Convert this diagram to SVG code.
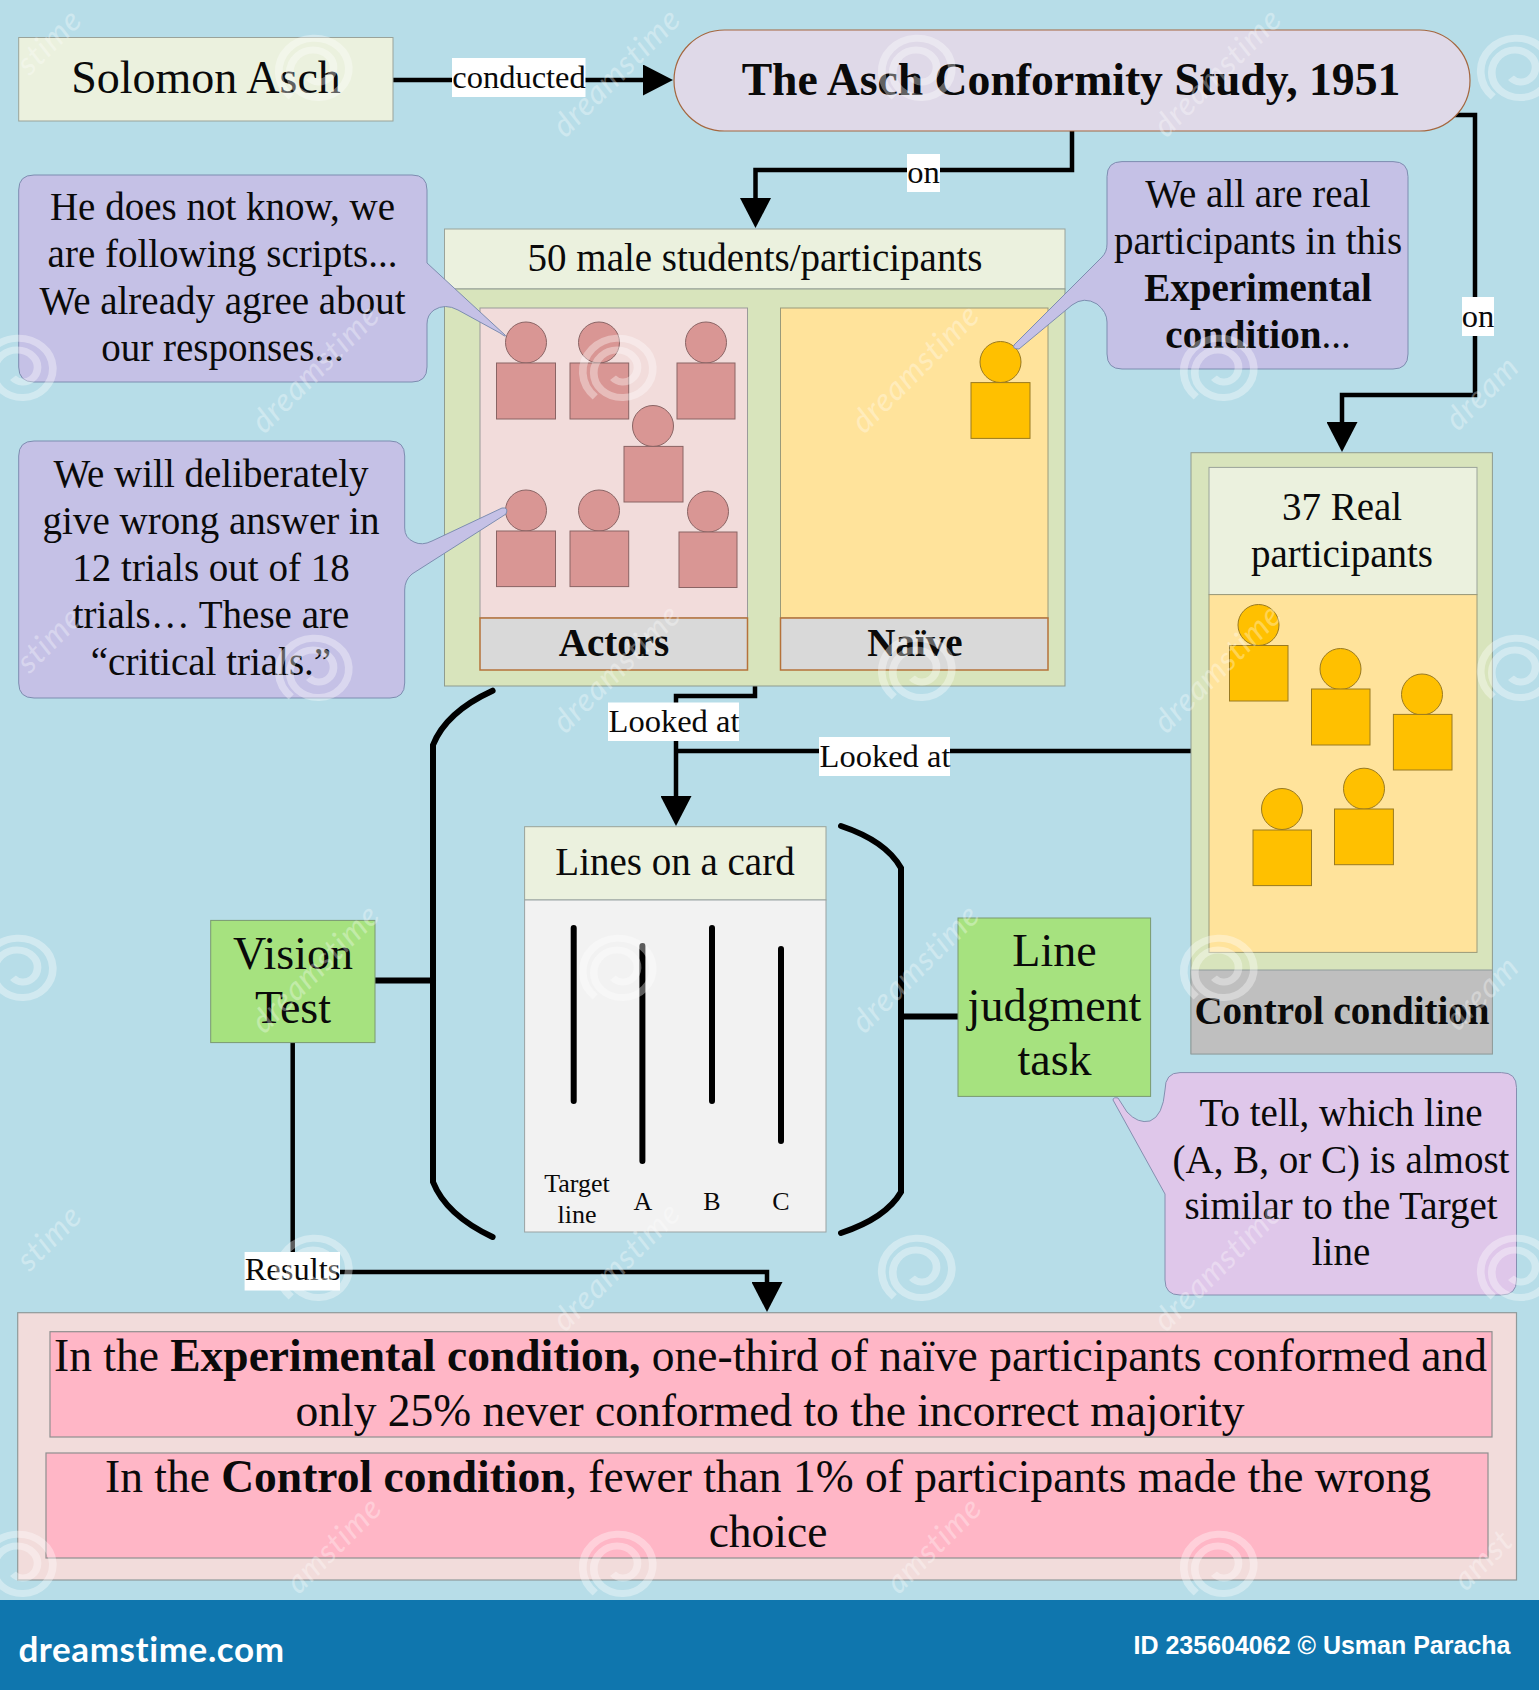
<svg xmlns="http://www.w3.org/2000/svg" width="1539" height="1690" viewBox="0 0 1539 1690">
<style>
text{font-family:"Liberation Serif","Times New Roman",serif;fill:#0a0a0a;text-anchor:middle}
.b{font-weight:bold}
.t46{font-size:46px}.t457{font-size:45.700px}.t45{font-size:45.500px}.t39{font-size:39px}.t32{font-size:32.500px}.t26{font-size:26px}
.hdr{fill:#ebf1de;stroke:#9aa39a;stroke-width:1}
.grn{fill:#d8e4bc;stroke:#8f9c8f;stroke-width:1}
.lab{fill:#d9d9d9;stroke:#b5723a;stroke-width:1.5}
.tag{fill:#a6e27f;stroke:#7a9a70;stroke-width:1}
.call{fill:#c5c1e6;stroke:#7d8db0;stroke-width:1}
.ap{fill:#d99694;stroke:#8a6464;stroke-width:1}
.yp{fill:#ffc000;stroke:#9a7a20;stroke-width:1}
.pink{fill:#ffb6c6;stroke:#8f8f8f;stroke-width:1.2}
.c{fill:none;stroke:#000;stroke-width:4.5}
.th{fill:none;stroke:#000;stroke-width:6;stroke-linecap:round}
.w{fill:#fff;stroke:none}
.swirl{fill:none;stroke:#fff;stroke-width:7;opacity:.36}
text.wm{font-family:"Lato","Liberation Sans",sans-serif;font-style:italic;font-size:32px;fill:#fff;opacity:.32;letter-spacing:1px}
text.ws{text-anchor:start}
text.we{text-anchor:end}
</style>
<defs>
<marker id="arr" viewBox="0 0 30 31" refX="15" refY="15.5" markerWidth="30" markerHeight="31" markerUnits="userSpaceOnUse" orient="auto"><path d="M0,0L30,15.5L0,31Z" fill="#000"/></marker>
<path id="sw" class="swirl" d="M-22.500,26.800A34,34 0 0 1 -25.300,-21.200A32,32 0 0 1 19.900,-23.700A30,30 0 0 1 22.200,18.600A27,27 0 0 1 -16.700,19.900A24,24 0 0 1 -16.900,-14.100A20,20 0 0 1 11.600,-13.800A16,16 0 0 1 10.700,9A12,12 0 0 1 -6.400,7.700"/>
</defs>
<rect id="background" width="1539" height="1600" fill="#b7dde8"/>

<g id="connectors">
<path class="c" d="M393,80H658" marker-end="url(#arr)"/>
<path class="c" d="M1072,131V170H755.500V213" marker-end="url(#arr)"/>
<path class="c" d="M1454,115H1475V395H1342V437" marker-end="url(#arr)"/>
<path class="c" d="M755,686V696H676V811" marker-end="url(#arr)"/>
<path class="c" d="M1193,751H676"/>
<path class="c" d="M292.700,1042V1272H767V1297" marker-end="url(#arr)"/>
<path class="th" d="M375,980.500H433"/>
<path class="th" d="M901,1016.500H959"/>
<path class="th" d="M492.600,690.700Q446,712 433,745V1182Q446,1215 492.600,1237"/>
<path class="th" d="M841,826Q886,841 901,868V1192Q886,1218 841,1233"/>
</g>

<g id="solomon"><rect class="hdr" x="18.700" y="37.500" width="374.300" height="83.500"/><text class="t46" x="206" y="93">Solomon Asch</text></g>
<g id="study"><rect x="674" y="30" width="796" height="101" rx="50.500" fill="#dfd9e8" stroke="#a5673f" stroke-width="1.200"/><text class="t457 b" x="1071" y="94.500">The Asch Conformity Study, 1951</text></g>

<g id="label-conducted"><rect class="w" x="452" y="58" width="133.500" height="39"/><text class="t32" x="519" y="87.500">conducted</text></g>
<g id="label-on-1"><rect class="w" x="907" y="154" width="33" height="38"/><text class="t32" x="923.500" y="183">on</text></g>
<g id="label-on-2"><rect class="w" x="1462" y="297" width="32" height="39"/><text class="t32" x="1478" y="327">on</text></g>

<g id="experimental">
<rect class="hdr" x="444.500" y="229" width="620.500" height="60"/>
<text class="t39" x="755" y="271">50 male students/participants</text>
<rect class="grn" x="444.500" y="289" width="620.500" height="397"/>
</g>
<g id="actors">
<rect x="480" y="308" width="267.500" height="310" fill="#f2dcdb" stroke="#9a9a9a"/>
<rect class="lab" x="480" y="618" width="267.500" height="52"/>
<text class="t39 b" x="614" y="656">Actors</text>
<g id="actor-1"><circle class="ap" cx="526" cy="342.500" r="20.500"/><rect class="ap" x="496.500" y="363" width="59" height="56"/></g>
<g id="actor-2"><circle class="ap" cx="599" cy="342.500" r="20.500"/><rect class="ap" x="570" y="363" width="58.700" height="56"/></g>
<g id="actor-3"><circle class="ap" cx="706" cy="342.500" r="20.500"/><rect class="ap" x="677" y="363" width="58" height="56"/></g>
<g id="actor-4"><circle class="ap" cx="653" cy="426" r="20.500"/><rect class="ap" x="624" y="446.400" width="59" height="55.600"/></g>
<g id="actor-5"><circle class="ap" cx="526" cy="510.500" r="20.500"/><rect class="ap" x="496.500" y="531" width="59" height="55.600"/></g>
<g id="actor-6"><circle class="ap" cx="599" cy="510.500" r="20.500"/><rect class="ap" x="570" y="531" width="58.700" height="55.600"/></g>
<g id="actor-7"><circle class="ap" cx="708" cy="511.600" r="20.500"/><rect class="ap" x="679" y="532" width="58" height="55.500"/></g>
</g>
<g id="naive">
<rect x="780.500" y="308" width="267.500" height="310" fill="#ffe39b" stroke="#9a9a7a"/>
<rect class="lab" x="780.500" y="618" width="267.500" height="52"/>
<text class="t39 b" x="915" y="656">Naïve</text>
<circle class="yp" cx="1000.500" cy="362" r="20.500"/><rect class="yp" x="971" y="382.600" width="59" height="55.800"/>
</g>

<g id="control">
<rect class="grn" x="1191" y="452.700" width="301.400" height="601"/>
<rect class="hdr" x="1209" y="467.400" width="268" height="127.200"/>
<text class="t39" x="1342" y="519.500">37 Real</text>
<text class="t39" x="1342" y="566.500">participants</text>
<rect x="1209" y="594.600" width="268" height="357.800" fill="#ffe39b" stroke="#9a9a7a"/>
<rect x="1191" y="970" width="301.400" height="84" fill="#bfbfbf" stroke="#8f9c9c"/>
<text class="t39 b" x="1342" y="1024">Control condition</text>
<g id="real-1"><circle class="yp" cx="1258.500" cy="625" r="20.500"/><rect class="yp" x="1229.500" y="645.500" width="58.500" height="55.500"/></g>
<g id="real-2"><circle class="yp" cx="1340.500" cy="669" r="20.500"/><rect class="yp" x="1311.500" y="689" width="58.500" height="56"/></g>
<g id="real-3"><circle class="yp" cx="1422" cy="694.500" r="20.500"/><rect class="yp" x="1393.400" y="714.400" width="58.600" height="55.600"/></g>
<g id="real-4"><circle class="yp" cx="1282" cy="809" r="20.500"/><rect class="yp" x="1253" y="830" width="58.500" height="55.600"/></g>
<g id="real-5"><circle class="yp" cx="1364" cy="788.700" r="20.500"/><rect class="yp" x="1334.500" y="809" width="58.900" height="55.700"/></g>
</g>

<g id="callout-scripts">
<path class="call" d="M34,175H412Q427,175 427,190V263L505,335Q507,338 500,333L458,310Q445,303 434,310Q427,315 427,324V367Q427,382 412,382H34Q18.700,382 18.700,367V190Q18.700,175 34,175Z"/>
<text class="t39" x="222.500" y="220">He does not know, we</text>
<text class="t39" x="222.500" y="267">are following scripts...</text>
<text class="t39" x="222.500" y="314">We already agree about</text>
<text class="t39" x="222.500" y="361">our responses...</text>
</g>
<g id="callout-wrong">
<path class="call" d="M34,441H390Q404.700,441 404.700,456V528Q404.700,538 414,542Q422,546 432,541L502,508Q509,507 506,514L412,574Q404.700,580 404.700,590V683Q404.700,698 390,698H34Q18.700,698 18.700,683V456Q18.700,441 34,441Z"/>
<text class="t39" x="211" y="487">We will deliberately</text>
<text class="t39" x="211" y="534">give wrong answer in</text>
<text class="t39" x="211" y="581">12 trials out of 18</text>
<text class="t39" x="211" y="628">trials… These are</text>
<text class="t39" x="211" y="674.500">“critical trials.”</text>
</g>
<g id="callout-real">
<path class="call" d="M1122,161.600H1393Q1408,161.600 1408,176.600V354Q1408,369 1393,369H1122Q1107,369 1107,354V322Q1107,312 1097,304Q1084,296 1072,305L1019,349Q1012,349 1014,345L1102,257Q1107,252 1107,244V176.600Q1107,161.600 1122,161.600Z"/>
<text class="t39" x="1258" y="207">We all are real</text>
<text class="t39" x="1258" y="254">participants in this</text>
<text class="t39 b" x="1258" y="301">Experimental</text>
<text class="t39" x="1258" y="348"><tspan class="b">condition</tspan>...</text>
</g>

<g id="looked-1"><rect class="w" x="608" y="702.500" width="131" height="38.500"/><text class="t32" x="674" y="731.500">Looked at</text></g>
<g id="looked-2"><rect class="w" x="819" y="737" width="131" height="39"/><text class="t32" x="885" y="767">Looked at</text></g>

<g id="card">
<rect class="hdr" x="524.600" y="826.700" width="301.400" height="73.300"/>
<text class="t39" x="675" y="875">Lines on a card</text>
<rect x="524.600" y="900" width="301.400" height="332" fill="#f2f2f2" stroke="#9aa3a3"/>
<path class="th" d="M573.700,928V1101M642.400,946V1161M712,928V1101M781,949V1141"/>
<text class="t26" x="577" y="1192">Target</text>
<text class="t26" x="577" y="1222.500">line</text>
<text class="t26" x="643" y="1210">A</text>
<text class="t26" x="712" y="1210">B</text>
<text class="t26" x="781" y="1210">C</text>
</g>

<g id="vision"><rect class="tag" x="210.700" y="920.400" width="164.300" height="122.200"/><text class="t46" x="293" y="969">Vision</text><text class="t46" x="293" y="1023">Test</text></g>
<g id="judgment"><rect class="tag" x="958" y="918" width="192.600" height="178.400"/><text class="t46" x="1054.500" y="966">Line</text><text class="t46" x="1054.500" y="1020.500">judgment</text><text class="t46" x="1054.500" y="1075">task</text></g>
<g id="callout-task">
<path fill="#dfc7ea" stroke="#858fb0" stroke-width="1" d="M1180,1072.600H1501.500Q1516.500,1072.600 1516.500,1087.600V1280Q1516.500,1295 1501.500,1295H1180Q1165,1295 1165,1280V1194L1113,1100Q1113,1097 1118,1098L1127,1112Q1138,1124 1150,1121Q1163,1116 1165,1090Q1165,1072.600 1180,1072.600Z"/>
<text class="t39" x="1341" y="1126">To tell, which line</text>
<text class="t39" x="1341" y="1172.500">(A, B, or C) is almost</text>
<text class="t39" x="1341" y="1219">similar to the Target</text>
<text class="t39" x="1341" y="1265">line</text>
</g>
<g id="label-results"><rect class="w" x="244.600" y="1252" width="95.400" height="38.500"/><text class="t32" x="292.500" y="1280">Results</text></g>

<g id="results">
<rect x="17.700" y="1312.700" width="1498.800" height="267.300" fill="#f2dcdb" stroke="#8f9a9a" stroke-width="1.200"/>
<rect class="pink" x="50" y="1331.700" width="1442" height="105.300"/>
<text class="t45" x="770.500" y="1371">In the <tspan class="b">Experimental condition,</tspan> one-third of naïve participants conformed and</text>
<text class="t45" x="770" y="1426">only 25% never conformed to the incorrect majority</text>
<rect class="pink" x="46" y="1453" width="1442" height="105"/>
<text class="t45" x="768" y="1492">In the <tspan class="b">Control condition</tspan>, fewer than 1% of participants made the wrong</text>
<text class="t45" x="768" y="1547">choice</text>
</g>

<g id="watermark">
<use href="#sw" transform="translate(316,70) scale(1.1,1)"/><use href="#sw" transform="translate(919,70) scale(1.1,1)"/><use href="#sw" transform="translate(1518,70) scale(1.1,1)"/>
<use href="#sw" transform="translate(20,370) scale(1.1,1)"/><use href="#sw" transform="translate(620,370) scale(1.1,1)"/><use href="#sw" transform="translate(1221,370) scale(1.1,1)"/>
<use href="#sw" transform="translate(316,670) scale(1.1,1)"/><use href="#sw" transform="translate(919,670) scale(1.1,1)"/><use href="#sw" transform="translate(1518,670) scale(1.1,1)"/>
<use href="#sw" transform="translate(20,970) scale(1.1,1)"/><use href="#sw" transform="translate(620,970) scale(1.1,1)"/><use href="#sw" transform="translate(1221,970) scale(1.1,1)"/>
<use href="#sw" transform="translate(316,1270) scale(1.1,1)"/><use href="#sw" transform="translate(919,1270) scale(1.1,1)"/><use href="#sw" transform="translate(1518,1270) scale(1.1,1)"/>
<use href="#sw" transform="translate(20,1566) scale(1.1,1)"/><use href="#sw" transform="translate(620,1566) scale(1.1,1)"/><use href="#sw" transform="translate(1221,1566) scale(1.1,1)"/>
<text class="wm" transform="translate(624,80) rotate(-45)">dreamstime</text><text class="wm" transform="translate(1225,80) rotate(-45)">dreamstime</text><text class="wm we" transform="translate(84,22) rotate(-45)">stime</text>
<text class="wm" transform="translate(323,376) rotate(-45)">dreamstime</text><text class="wm" transform="translate(923,376) rotate(-45)">dreamstime</text><text class="wm ws" transform="translate(1458,432) rotate(-45)">dream</text>
<text class="wm" transform="translate(624,676) rotate(-45)">dreamstime</text><text class="wm" transform="translate(1225,676) rotate(-45)">dreamstime</text><text class="wm we" transform="translate(84,620) rotate(-45)">stime</text>
<text class="wm" transform="translate(323,976) rotate(-45)">dreamstime</text><text class="wm" transform="translate(923,976) rotate(-45)">dreamstime</text><text class="wm ws" transform="translate(1458,1032) rotate(-45)">dream</text>
<text class="wm" transform="translate(624,1274) rotate(-45)">dreamstime</text><text class="wm" transform="translate(1225,1274) rotate(-45)">dreamstime</text><text class="wm we" transform="translate(84,1218) rotate(-45)">stime</text>
<text class="wm we" transform="translate(384,1510) rotate(-45)">amstime</text><text class="wm we" transform="translate(984,1510) rotate(-45)">amstime</text><text class="wm ws" transform="translate(1466,1592) rotate(-45)">amst</text>
</g>

<rect id="banner" y="1600" width="1539" height="90" fill="#0f76ae"/>
<g id="footer">
<text x="151.500" y="1662" style="font-family:'Lato','Liberation Sans',sans-serif;font-size:35px;font-weight:bold;fill:#fff;letter-spacing:.6px">dreamstime.com</text>
<text x="1322" y="1654" style="font-family:'Liberation Sans',Arial,sans-serif;font-size:25px;font-weight:bold;fill:#fff">ID 235604062 © Usman Paracha</text>
</g>
</svg>
